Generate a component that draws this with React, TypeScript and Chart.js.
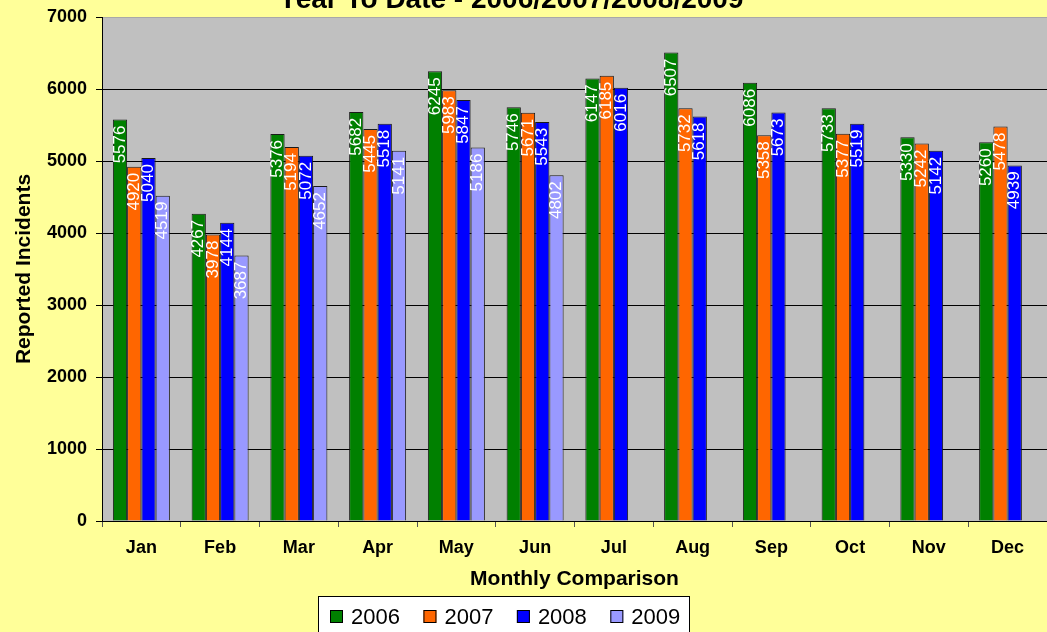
import React, { useEffect, useRef } from "react";
import { Chart, registerables } from "chart.js";

Chart.register(...registerables);

const TITLE = "Year To Date - 2006/2007/2008/2009";
const X_TITLE = "Monthly Comparison";
const Y_TITLE = "Reported Incidents";

const MONTHS = ["Jan", "Feb", "Mar", "Apr", "May", "Jun", "Jul", "Aug", "Sep", "Oct", "Nov", "Dec"];
const SERIES_LABELS = ["2006", "2007", "2008", "2009"];
const VALUES_2006 = [5576, 4267, 5376, 5682, 6245, 5746, 6147, 6507, 6086, 5733, 5330, 5260];
const VALUES_2007 = [4920, 3978, 5194, 5445, 5983, 5671, 6185, 5732, 5358, 5377, 5242, 5478];
const VALUES_2008 = [5040, 4144, 5072, 5518, 5847, 5543, 6016, 5618, 5673, 5519, 5142, 4939];
const VALUES_2009 = [4519, 3687, 4652, 5141, 5186, 4802, null, null, null, null, null, null];
const Y_MIN = 0;
const Y_MAX = 7000;
const Y_STEP = 1000;

const COLORS = ["#008000", "#FF6600", "#0000FF", "#9999FF"];
const FONT = "'Liberation Sans', Arial, sans-serif";

const plotBg = {
  id: "plotBg",
  beforeDraw(chart: any) {
    const { ctx, chartArea: a } = chart;
    ctx.save();
    ctx.fillStyle = "#C0C0C0";
    ctx.fillRect(a.left, a.top, a.right - a.left, a.bottom - a.top);
    ctx.fillStyle = "#A8A8A8";
    ctx.fillRect(a.left, a.top, a.right - a.left, 1);
    ctx.restore();
  },
};

const barLabels = {
  id: "barLabels",
  afterDatasetsDraw(chart: any) {
    const { ctx } = chart;
    ctx.save();
    ctx.font = `17px ${FONT}`;
    ctx.fillStyle = "#FFFFFF";
    ctx.textAlign = "right";
    ctx.textBaseline = "middle";
    chart.data.datasets.forEach((ds: any, i: number) => {
      const meta = chart.getDatasetMeta(i);
      meta.data.forEach((bar: any, j: number) => {
        const v = ds.data[j];
        if (v === null || v === undefined) return;
        ctx.save();
        ctx.translate(bar.x, bar.y + 6);
        ctx.rotate(-Math.PI / 2);
        ctx.fillText(String(v), 0, 0);
        ctx.restore();
      });
    });
    ctx.restore();
  },
};

const topTitle = {
  id: "topTitle",
  afterDraw(chart: any) {
    const { ctx } = chart;
    ctx.save();
    ctx.font = `bold 28px ${FONT}`;
    ctx.fillStyle = "#000";
    ctx.textAlign = "center";
    ctx.textBaseline = "alphabetic";
    ctx.fillText(TITLE, 511, 7.5);
    ctx.restore();
  },
};

const boxLegend = {
  id: "boxLegend",
  afterDraw(chart: any) {
    const { ctx } = chart;
    const left = 318;
    const top = 596;
    const width = 372;
    ctx.save();
    ctx.fillStyle = "#FFFFFF";
    ctx.fillRect(left, top, width, 60);
    ctx.strokeStyle = "#000";
    ctx.lineWidth = 1;
    ctx.strokeRect(left + 0.5, top + 0.5, width - 1, 60);
    ctx.font = `22px ${FONT}`;
    ctx.textBaseline = "alphabetic";
    ctx.textAlign = "left";
    let x = 330;
    chart.data.datasets.forEach((ds: any) => {
      ctx.fillStyle = ds.backgroundColor;
      ctx.fillRect(x, 610, 13, 13);
      ctx.strokeStyle = "#000";
      ctx.strokeRect(x + 0.5, 610.5, 12, 12);
      ctx.fillStyle = "#000";
      ctx.fillText(ds.label, x + 21, 624);
      x += 21 + ctx.measureText(ds.label).width + 23.5;
    });
    ctx.restore();
  },
};

export default function App() {
  const ref = useRef<HTMLCanvasElement | null>(null);

  useEffect(() => {
    if (!ref.current) return;
    const series = [VALUES_2006, VALUES_2007, VALUES_2008, VALUES_2009];
    const chart = new Chart(ref.current, {
      type: "bar",
      data: {
        labels: MONTHS,
        datasets: series.map((d, i) => ({
          label: SERIES_LABELS[i],
          data: d,
          backgroundColor: COLORS[i],
          borderColor: "#1A1A1A",
          borderWidth: 1,
          barPercentage: 1,
          categoryPercentage: 0.724,
        })),
      },
      options: {
        responsive: false,
        animation: false,
        layout: { padding: { top: 17, left: 0, right: 0, bottom: 36 } },
        plugins: {
          legend: { display: false },
          title: { display: false },
          tooltip: { enabled: false },
        },
        scales: {
          x: {
            grid: {
              offset: true,
              drawOnChartArea: false,
              drawTicks: true,
              tickLength: 6,
              tickColor: "#555",
            },
            border: { display: true, color: "#000", width: 1 },
            ticks: {
              color: "#000",
              font: { family: FONT, size: 18, weight: "bold" },
              padding: 10,
              maxRotation: 0,
              autoSkip: false,
            },
            title: {
              display: true,
              text: X_TITLE,
              color: "#000",
              font: { family: FONT, size: 21, weight: "bold" },
              padding: { top: 0, bottom: 4 },
            },
            afterFit(scale: any) {
              scale.height = 75;
            },
          },
          y: {
            min: Y_MIN,
            max: Y_MAX,
            grid: {
              color: (c: any) => (c.tick && c.tick.value === Y_MAX ? "rgba(0,0,0,0)" : "#000"),
              tickColor: "#000",
              tickLength: 6,
              lineWidth: 1,
            },
            border: { display: true, color: "#000", width: 1 },
            ticks: {
              stepSize: Y_STEP,
              color: "#000",
              font: { family: FONT, size: 18, weight: "bold" },
              padding: 9,
              callback: (v: any) => String(v),
            },
            title: {
              display: true,
              text: Y_TITLE,
              color: "#000",
              font: { family: FONT, size: 21, weight: "bold" },
              padding: { top: 12, bottom: 0 },
            },
            afterFit(scale: any) {
              scale.width = 102;
              scale.paddingTop = 8;
              scale.paddingBottom = 8;
            },
          },
        },
      },
      plugins: [plotBg, barLabels, topTitle, boxLegend],
    } as any);
    return () => chart.destroy();
  }, []);

  return (
    <div
      style={{
        position: "fixed",
        left: 0,
        top: 0,
        width: 1047,
        height: 632,
        background: "#FFFF99",
        overflow: "hidden",
      }}
    >
      <canvas ref={ref} width={1047} height={632} style={{ display: "block" }} />
    </div>
  );
}
